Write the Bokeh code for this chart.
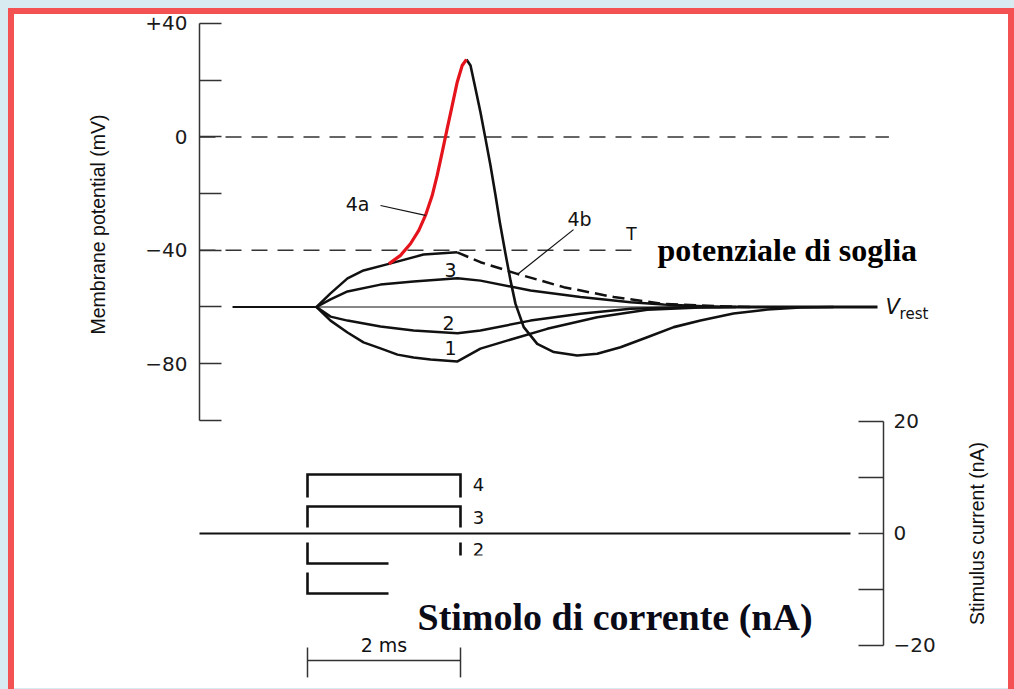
import math
from bokeh.plotting import figure
from bokeh.models import (Range1d, LinearAxis, FixedTicker, Label, GlobalInlineStyleSheet)
from bokeh.core.properties import value
from bokeh.embed import file_html
from bokeh.resources import INLINE

# ---------------- data (time in ms, potential in mV, current in nA) ----------------
v_rest = -60
v_threshold = -40

rest_left_t = [-0.98, 0.118]
rest_thin_t = [0.118, 5.0]
rest_right_t = [5.0, 7.451]

curve4_t = [0.118, 0.301, 0.523, 0.732, 1.063, 1.516, 1.957]
curve4_v = [-60, -55.2, -49.9, -47.1, -44.8, -41.5, -40.7]

curve4b_t = [1.957, 2.261, 2.741, 3.350, 4.004, 4.658, 5.137, 5.79]
curve4b_v = [-40.7, -44.2, -48.3, -53.0, -56.5, -58.9, -59.5, -60]

curve3_t = [0.118, 0.301, 0.523, 0.954, 1.386, 1.961, 2.261, 2.915, 3.569, 4.222, 4.654, 5.4]
curve3_v = [-60, -57.3, -54.5, -52.1, -51.0, -49.9, -50.7, -54.2, -56.5, -58.3, -59.1, -60]

curve2_t = [0.118, 0.301, 0.523, 0.954, 1.386, 1.961, 2.261, 2.915, 3.569, 4.222, 5.0]
curve2_v = [-60, -63.4, -64.8, -66.9, -68.3, -69.3, -68.3, -64.8, -62.4, -60.6, -60]

curve1_t = [0.118, 0.301, 0.523, 0.732, 0.954, 1.176, 1.386, 1.608, 1.961, 2.261, 2.693,
            3.133, 3.787, 4.441, 5.137, 5.6]
curve1_v = [-60, -64.8, -69.0, -72.5, -74.6, -76.8, -77.8, -78.5, -79.2, -74.7, -71.2,
            -67.7, -63.6, -61.0, -60.2, -60]

ap_rise_t = [1.063, 1.216, 1.346, 1.455, 1.542, 1.630, 1.695, 1.761, 1.826, 1.892, 1.957, 2.022, 2.078]
ap_rise_v = [-44.8, -41.8, -37.7, -33.0, -27.7, -20.7, -13.6, -5.4, 2.9, 11.1, 19.3, 25.2, 27.3]

ap_fall_t = [2.078, 2.131, 2.196, 2.261, 2.327, 2.392, 2.458, 2.514, 2.588, 2.654, 2.719, 2.827,
             3.003, 3.220, 3.525, 3.787, 4.092, 4.441, 4.788, 5.137, 5.569, 6.013, 6.444, 6.876]
ap_fall_v = [27.3, 25.2, 17.0, 8.7, -0.7, -10.1, -20.7, -30.1, -41.2, -50.7, -58.9, -67.1,
             -73.0, -75.9, -77.1, -76.5, -74.2, -70.7, -67.1, -64.8, -62.3, -60.9, -60.2, -60.0]

# stimulus pulses (bracket drawings)
stim_start = 0.0
stim_end = 2.0
pulse_names = ["4", "3", "2", "1"]
pulse_amp = [10.54, 4.82, -5.36, -10.71]
pulse_stub_end = [6.43, 1.07, -1.61, -6.96]
pulse_label_y = [8.75, 2.86, -2.86]

mv_ticks = [-100, -80, -60, -40, -20, 0, 20, 40]
mv_labels = {-100: "", -80: "\u221280", -60: "", -40: "\u221240", -20: "", 0: "0", 20: "", 40: "+40"}
na_ticks = [-20, -10, 0, 10, 20]
na_labels = {-20: "\u221220", -10: "", 0: "0", 10: "", 20: "20"}

# ---------------- figure ----------------
INK = "#111111"
AX = "#333333"
RED = "#e5141c"

page_css = """
html, body { background-color: #d8ebf0 !important; }
body { padding: 8px 0 0 8px !important; }
body::after { content: ""; position: fixed; left: 8px; top: 8px; width: 1006px; height: 740px;
  box-sizing: border-box; border: 6px solid #f45252; pointer-events: none; z-index: 1000; }
"""

p = figure(width=1000, height=680, output_backend="svg", toolbar_location=None,
           x_axis_location=None, y_axis_location=None,
           x_range=Range1d(-3.9085, 9.1634), y_range=Range1d(-194.57, 45.29),
           min_border_left=0, min_border_right=0, min_border_top=0, min_border_bottom=0)
p.extra_y_ranges = {"current": Range1d(-27.68, 93.75)}
p.xgrid.visible = False
p.ygrid.visible = False
p.outline_line_color = None
p.background_fill_color = "white"
p.border_fill_color = "white"
p.stylesheets = [GlobalInlineStyleSheet(css=page_css)]

# axes (drawn at fixed positions inside the frame)
yax = LinearAxis(fixed_location=-1.4118, bounds=(-100, 40),
                 ticker=FixedTicker(ticks=mv_ticks, minor_ticks=[]),
                 major_label_overrides=mv_labels)
yax.major_tick_in = 22
yax.major_tick_out = 0
yax.minor_tick_in = 0
yax.minor_tick_out = 0
yax.axis_line_color = AX
yax.axis_line_width = 1.5
yax.major_tick_line_color = AX
yax.major_tick_line_width = 1.5
yax.major_label_text_font = "DejaVu Sans"
yax.major_label_text_font_size = "20px"
yax.major_label_text_color = "#1a1a1a"
yax.major_label_standoff = 12
p.add_layout(yax, "left")

rax = LinearAxis(fixed_location=7.5294, y_range_name="current", bounds=(-20, 20),
                 ticker=FixedTicker(ticks=na_ticks, minor_ticks=[]),
                 major_label_overrides=na_labels)
rax.major_tick_in = 25
rax.major_tick_out = 0
rax.minor_tick_in = 0
rax.minor_tick_out = 0
rax.axis_line_color = AX
rax.axis_line_width = 1.5
rax.major_tick_line_color = AX
rax.major_tick_line_width = 1.5
rax.major_label_text_font = "DejaVu Sans"
rax.major_label_text_font_size = "20px"
rax.major_label_text_color = "#1a1a1a"
rax.major_label_standoff = 10
p.add_layout(rax, "right")

# reference dashed lines
p.line([-1.4118, 7.6], [0, 0], line_color=AX, line_width=1.5, line_dash="16 10")
p.line([-1.4118, 4.314], [v_threshold, v_threshold], line_color=AX, line_width=1.5, line_dash="16 10")

# resting line
p.line(rest_left_t, [v_rest, v_rest], line_color=INK, line_width=2.2)
p.line(rest_thin_t, [v_rest, v_rest], line_color=INK, line_width=1.1)
p.line(rest_right_t, [v_rest, v_rest], line_color=INK, line_width=2.8)

# potential responses
for t, v in [(curve1_t, curve1_v), (curve2_t, curve2_v), (curve3_t, curve3_v), (curve4_t, curve4_v)]:
    p.line(t, v, line_color=INK, line_width=2.5, line_join="round")
p.line(curve4b_t, curve4b_v, line_color=INK, line_width=2.5, line_dash="12 6")
p.line(ap_fall_t, ap_fall_v, line_color=INK, line_width=2.6, line_join="round")
p.line(ap_rise_t, ap_rise_v, line_color=RED, line_width=3.2, line_join="round")

# pointer lines
p.line([0.954, 1.542], [-24.2, -27.7], line_color=INK, line_width=1.2)
p.line([3.477, 2.758], [-32.7, -48.2], line_color=INK, line_width=1.2)

# curve labels
p.text(x=[0.654, 3.556, 1.869, 1.843, 1.869], y=[-23.5, -28.8, -46.8, -65.5, -74.6],
       text=["4a", "4b", "3", "2", "1"], text_align="center", text_baseline="middle",
       text_font=value("DejaVu Sans"), text_font_size="19px", text_color=INK)
p.text(x=[4.235], y=[-34.4], text=["T"], text_align="center", text_baseline="middle",
       text_font=value("DejaVu Sans"), text_font_size="17px", text_color=INK)

# stimulus current panel
p.line([-1.4118, 7.098], [0, 0], y_range_name="current", line_color=INK, line_width=2.2)
pxs = [[stim_start, stim_start, stim_end, stim_end] for _ in pulse_amp]
pys = [[s, a, a, s] for a, s in zip(pulse_amp, pulse_stub_end)]
p.multi_line(pxs, pys, y_range_name="current", line_color=INK, line_width=2.6, line_join="miter")
p.text(x=[2.235, 2.235, 2.235], y=pulse_label_y, text=pulse_names[:3], y_range_name="current",
       text_align="center", text_baseline="middle", text_font=value("DejaVu Sans"),
       text_font_size="18px", text_color=INK)

# white caption box (covers the ends of pulses 2 and 1)
p.quad(left=[1.059], right=[7.19], top=[-3.93], bottom=[-19.46], y_range_name="current",
       fill_color="white", line_color=None)

# 2 ms scale bar
p.line([stim_start, stim_end], [-22.68, -22.68], y_range_name="current", line_color=AX, line_width=1.5)
p.segment(x0=[stim_start, stim_end], y0=[-20.36, -20.36], x1=[stim_start, stim_end], y1=[-25.7, -25.7],
          y_range_name="current", line_color=AX, line_width=1.5)
p.add_layout(Label(x=1.0, y=-21.9, y_range_name="current", text="2 ms", text_align="center",
                   text_baseline="bottom", text_font="DejaVu Sans", text_font_size="19px",
                   text_color=INK))

# titles and annotations
p.add_layout(Label(x=-2.745, y=-30.9, text="Membrane potential (mV)", angle=math.pi / 2,
                   text_align="center", text_baseline="middle", text_font="Liberation Sans",
                   text_font_size="19.5px", text_color="#111111"))
p.add_layout(Label(x=8.758, y=0, y_range_name="current", text="Stimulus current (nA)",
                   angle=math.pi / 2, text_align="center", text_baseline="middle",
                   text_font="Liberation Sans", text_font_size="19.5px", text_color="#111111"))
p.add_layout(Label(x=7.556, y=v_rest, text="V", text_align="left", text_baseline="middle",
                   text_font="DejaVu Sans", text_font_style="italic", text_font_size="21px",
                   text_color=INK))
p.add_layout(Label(x=7.74, y=-62.3, text="rest", text_align="left", text_baseline="middle",
                   text_font="DejaVu Sans", text_font_size="15px", text_color=INK))
p.add_layout(Label(x=4.575, y=-40.07, text="potenziale di soglia", text_align="left",
                   text_baseline="alphabetic", text_font="Liberation Serif",
                   text_font_style="bold", text_font_size="32px", text_color="#000000"))
p.add_layout(Label(x=1.438, y=-15.0, y_range_name="current", text="Stimolo di corrente (nA)",
                   text_align="left", text_baseline="alphabetic", text_font="Liberation Serif",
                   text_font_style="bold", text_font_size="38px", text_color="#0b0b18"))

open("out.html", "w").write(file_html(p, INLINE))
